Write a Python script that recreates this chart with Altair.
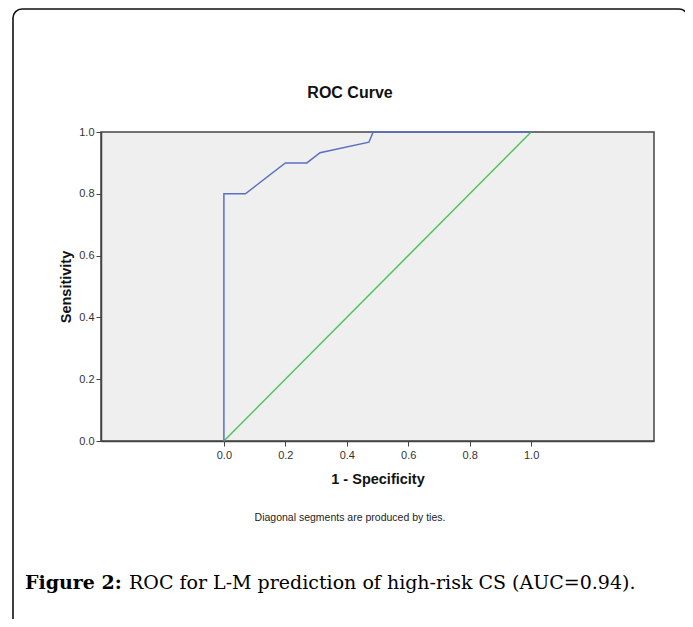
import altair as alt
import pandas as pd

# ROC curve values
fpr = [0.0, 0.0, 0.07, 0.2, 0.27, 0.313, 0.472, 0.486, 1.0]
tpr = [0.0, 0.8, 0.8, 0.9, 0.9, 0.933, 0.967, 1.0, 1.0]
ref_x = [0.0, 1.0]
ref_y = [0.0, 1.0]
x_ticks = [0.0, 0.2, 0.4, 0.6, 0.8, 1.0]
y_ticks = [0.0, 0.2, 0.4, 0.6, 0.8, 1.0]

title_text = "ROC Curve"
x_title = "1 - Specificity"
y_title = "Sensitivity"
note_text = "Diagonal segments are produced by ties."
caption_bold = "Figure 2:"
caption_rest = "ROC for L-M prediction of high-risk CS (AUC=0.94)."

SANS = "Liberation Sans"
SERIF = "DejaVu Serif"

roc_df = pd.DataFrame({"fpr": fpr, "tpr": tpr, "order": list(range(len(fpr)))})
ref_df = pd.DataFrame({"fpr": ref_x, "tpr": ref_y, "order": [0, 1]})

xscale = alt.Scale(domain=[-0.4, 1.4], nice=False, zero=False)
yscale = alt.Scale(domain=[0, 1], nice=False)

xaxis = alt.Axis(values=x_ticks, format=".1f", title=x_title, grid=False,
                 tickSize=5, labelFontSize=11, labelColor="#333333",
                 titleFontSize=14.5, titleFontWeight="bold", titleColor="#111111",
                 titlePadding=12, labelFont=SANS, titleFont=SANS,
                 domainColor="#444444", tickColor="#444444", domainWidth=1.5,
                 labelPadding=3)
yaxis = alt.Axis(values=y_ticks, format=".1f", title=y_title, grid=False,
                 tickSize=5, labelFontSize=11, labelColor="#333333",
                 titleFontSize=14.5, titleFontWeight="bold", titleColor="#111111",
                 titlePadding=5, labelFont=SANS, titleFont=SANS,
                 domainColor="#444444", tickColor="#444444", domainWidth=1.5,
                 labelPadding=2)

diag = alt.Chart(ref_df).mark_line(color="#4cc45a", strokeWidth=1.5).encode(
    x=alt.X("fpr:Q", scale=xscale, axis=xaxis),
    y=alt.Y("tpr:Q", scale=yscale, axis=yaxis),
    order="order:Q",
)

roc = alt.Chart(roc_df).mark_line(color="#5a70c4", strokeWidth=1.5).encode(
    x=alt.X("fpr:Q", scale=xscale, axis=xaxis),
    y=alt.Y("tpr:Q", scale=yscale, axis=yaxis),
    order="order:Q",
)

one = pd.DataFrame({"t": [0]})

border = alt.Chart(one).mark_rect(
    fillOpacity=0, stroke="#111111", strokeWidth=1.6, cornerRadius=9
).encode(
    x=alt.value(-88), x2=alt.value(587), y=alt.value(-123), y2=alt.value(520)
)

title = alt.Chart(pd.DataFrame({"t": [title_text]})).mark_text(
    font=SANS, fontSize=16, fontWeight="bold", color="#111111", align="center", baseline="middle"
).encode(x=alt.value(249), y=alt.value(-39), text="t:N")

note = alt.Chart(pd.DataFrame({"t": [note_text]})).mark_text(
    font=SANS, fontSize=10.5, color="#222222", align="center", baseline="middle"
).encode(x=alt.value(249), y=alt.value(386), text="t:N")

cap1 = alt.Chart(pd.DataFrame({"t": [caption_bold]})).mark_text(
    font=SERIF, fontSize=19, fontWeight="bold", color="#000000", align="left", baseline="alphabetic"
).encode(x=alt.value(-76), y=alt.value(457), text="t:N")

cap2 = alt.Chart(pd.DataFrame({"t": [caption_rest]})).mark_text(
    font=SERIF, fontSize=19, color="#000000", align="left", baseline="alphabetic"
).encode(x=alt.value(28), y=alt.value(457), text="t:N")

chart = alt.layer(diag, roc, border, title, note, cap1, cap2).properties(
    width=553, height=309,
    padding={"left": 93, "top": 124, "right": 31, "bottom": 178},
    autosize="none",
    background="white",
).configure_view(
    fill="#efefef", stroke="#444444", strokeWidth=1.5
)

chart.save("out.html", embed_options={"renderer": "svg", "actions": False})
